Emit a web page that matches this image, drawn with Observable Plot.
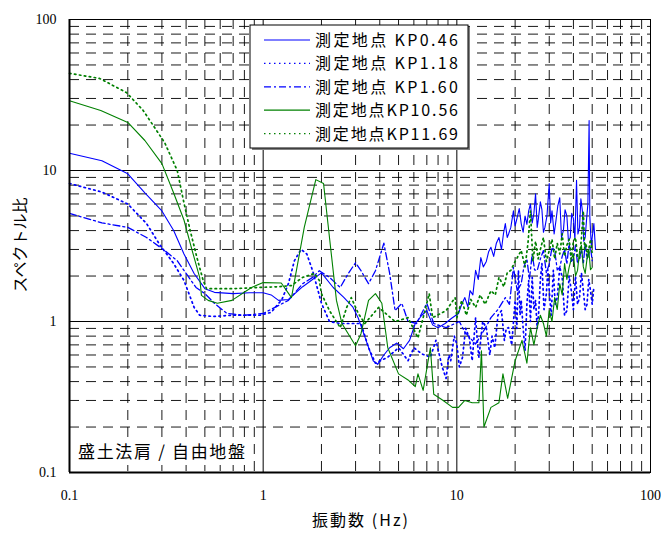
<!DOCTYPE html>
<html><head><meta charset="utf-8">
<script src="https://cdn.jsdelivr.net/npm/d3@7"></script>
<script src="https://cdn.jsdelivr.net/npm/@observablehq/plot@0.6"></script>
<style>body{margin:0;background:#fff}</style>
</head><body><div id="chart"></div>
<script>
// ---- data ----
const seriesNames = ["測定地点 KP0.46", "測定地点 KP1.18", "測定地点 KP1.60", "測定地点KP10.56", "測定地点KP11.69"];
const seriesColors = ["#0000ff", "#0000ff", "#0000ff", "#008000", "#008000"];

const fKP046 = [0.1,0.147,0.2,0.245,0.3,0.345,0.39,0.44,0.5,0.56,0.7,0.85,1.0,1.1,1.2,1.35,1.6,1.77,2.0,2.3,2.6,2.9,3.1,3.4,3.7,3.9,4.2,4.5,4.9,5.3,5.7,6.1,6.6,7.0,7.5,8.0,8.7,9.4,10.2,10.6,11.0,11.4,11.7,12.1,12.5,12.9,13.3,13.7,14.2,14.6,15.0,15.5,16.0,16.5,17.0,17.4,17.8,18.2,18.5,19.0,19.6,20.0,20.5,21.0,21.5,22.0,22.5,23.0,23.5,24.0,24.5,25.0,25.5,26.0,26.3,27.0,27.5,28.0,28.5,29.2,30,30.5,31,31.8,32.5,33.2,34,34.7,35.5,36.2,37,37.7,38.5,39.2,40,40.7,41.5,42.2,43,43.7,44.5,45.2,46,46.8,47.5,48.2,48.6,49,49.5,50,51,52];
const vKP046 = [13,11.6,9.5,7.1,5.4,4.0,2.8,2.08,1.65,1.56,1.53,1.55,1.55,1.5,1.38,1.4,1.7,1.87,2.1,1.68,1.45,1.25,1.05,0.75,0.55,0.52,0.6,0.67,0.72,0.66,0.75,0.97,1.1,1.18,0.95,0.91,0.97,1.05,1.13,1.3,1.44,1.25,1.6,1.5,2.18,1.9,2.65,2.3,2.5,2.9,3.1,2.7,3.3,3.6,3.0,3.8,4.45,3.6,3.8,4.2,5.4,4.3,4.9,5.6,4.45,3.9,5.0,4.4,5.4,6.0,4.5,5.2,7.0,4.2,4.66,6.2,5.5,3.9,4.2,5.0,8.2,4.5,5.4,3.8,4.66,5.8,6.6,3.6,4.0,5.5,5.0,3.4,3.6,5.2,4.8,3.5,8.6,3.8,4.2,6.5,5.4,3.4,3.6,4.8,6.0,21.4,5.0,4.0,3.2,3.6,4.45,3.0];

const fKP118 = [0.1,0.147,0.2,0.25,0.29,0.345,0.39,0.44,0.47,0.55,0.7,0.96,1.1,1.25,1.35,1.45,1.57,1.68,1.8,2.0,2.2,2.5,3.2,3.5,3.8,4.4,5.0,5.6,6.0,6.6,7.3,7.8,8.4,8.8,9.1,9.3,9.7,10.0,10.3,10.7,11.1,11.6,12.0,12.5,12.8,13.0,13.6,14.2,14.8,15.2,15.7,16.3,17.0,17.6,18.0,18.5,19.2,20,20.4,20.8,21.2,21.5,22.0,22.5,23.0,23.5,24.0,24.5,25.0,25.5,26.0,26.5,27.0,27.5,28.2,29,29.5,30,30.7,31.5,32.2,33,34,35,36,37,38,39,40,41,42,43,44,45,46,47,48,49,50,51];
const vKP118 = [8.2,7.2,6.0,4.45,3.28,2.42,1.87,1.24,1.1,1.08,1.1,1.1,1.15,1.4,1.78,2.53,3.0,2.8,2.17,1.32,1.0,0.97,0.97,0.67,0.53,0.58,0.67,0.55,0.67,0.61,0.58,0.75,0.5,0.42,0.6,0.55,0.8,0.71,0.5,0.58,0.9,0.78,0.55,1.06,0.7,0.58,1.0,0.91,0.6,0.8,0.67,1.1,1.18,0.75,0.9,0.91,0.7,1.38,0.9,2.18,1.1,1.38,0.9,0.64,1.3,1.87,1.0,1.96,1.2,1.38,0.9,1.18,1.9,2.42,1.2,1.53,2.2,1.6,1.1,2.18,1.3,1.44,2.3,1.96,1.1,1.18,2.0,1.6,1.2,2.0,1.3,1.44,2.1,1.6,1.2,1.3,1.9,1.6,1.3,1.7];

const fKP160 = [0.1,0.147,0.2,0.25,0.31,0.36,0.4,0.45,0.5,0.56,0.65,0.8,1.0,1.35,1.6,1.8,1.95,2.2,2.5,2.75,3.0,3.2,3.5,3.8,4.2,4.5,4.8,5.2,5.6,6.2,7.0,7.6,8.8,10.3,11,12.5,14,15,16.3,17.8,18.7,19.6,20.5,21.5,22.2,23,23.7,24.5,25.2,26,27,28,29,30,31,32,33,34,35,36,37,38,39,40,41,42,43,44,45,46,47,48,49,50];
const vKP160 = [5.2,4.5,4.2,3.6,2.95,2.53,2.08,1.68,1.53,1.32,1.13,1.1,1.13,1.38,1.78,1.96,2.17,1.96,1.68,2.08,2.45,2.17,1.78,2.17,3.3,2.08,1.18,1.32,1.0,0.97,1.32,0.97,0.91,1.0,0.85,0.71,0.9,1.06,1.2,1.44,1.3,2.28,1.6,1.78,2.3,2.6,1.9,2.8,2.2,2.17,2.6,2.95,2.1,2.4,3.1,2.95,2.2,2.28,2.7,3.0,2.4,3.3,2.5,2.6,3.2,2.42,2.6,3.0,2.4,3.3,2.6,2.8,3.1,2.53];

const fKP1056 = [0.1,0.145,0.2,0.245,0.3,0.345,0.39,0.43,0.47,0.48,0.52,0.58,0.69,0.87,1.0,1.24,1.4,1.63,1.87,2.05,2.2,2.39,2.55,3.0,3.2,3.5,3.8,4.1,4.4,5.0,5.6,6.1,6.3,6.7,7.3,7.6,8.5,9.5,10.2,11,12,13,13.4,13.8,15,16.5,17.3,18.3,20,21.7,23,24,25,26,27,28,29,30,31,32,33,34,35,36,37,38,39,40,41,42,43,44,45,46,47,48,49,50];
const vKP1056 = [29,25,20.8,15.8,11.1,7.1,4.7,2.95,1.96,1.49,1.38,1.32,1.38,1.68,1.81,1.8,1.44,4.2,8.7,8.2,3.6,1.38,0.97,0.69,0.83,1.38,1.53,1.32,0.67,0.45,0.41,0.37,0.45,0.35,0.67,0.33,0.3,0.27,0.27,0.3,0.29,0.29,0.64,0.2,0.27,0.29,0.45,0.31,0.55,0.75,0.53,0.91,0.7,0.91,1.1,0.97,0.8,1.18,1.0,1.44,1.2,1.78,1.5,2.42,1.9,2.28,2.6,2.8,2.0,2.18,2.9,3.2,2.3,2.08,2.6,3.0,2.2,2.28];

const fKP1169 = [0.1,0.143,0.197,0.24,0.31,0.36,0.39,0.42,0.455,0.49,0.51,0.7,0.95,1.2,1.4,1.6,1.84,1.95,2.0,2.2,2.5,2.7,2.85,3.1,3.35,3.95,4.8,5.6,6.3,6.7,7.2,7.5,8.8,9.8,10.0,10.6,11.2,11.8,12.5,13.2,14,15,15.8,16.5,17.5,18.2,19,20,21.5,22.5,23.3,24,24.7,25.5,26.3,27,28,29,30,31,32,33,34,35,36,37,38,39,40,41,42,43,44,45,45.7,46.5,47.3,48,49,50];
const vKP1169 = [44,40.7,32.8,25,15.3,10,6.1,4.0,2.65,1.87,1.65,1.65,1.68,1.7,1.73,1.96,2.08,1.87,1.53,1.18,0.91,1.24,1.44,1.13,0.97,1.24,1.0,1.06,0.78,1.06,1.53,1.06,1.18,1.44,1.06,1.38,1.1,1.4,1.24,1.5,1.3,1.6,1.5,1.96,1.7,2.1,2.18,2.5,2.95,2.3,3.3,5.4,2.5,3.4,2.6,3.0,3.6,2.5,2.95,3.5,2.6,3.3,2.8,3.8,2.7,3.2,3.5,2.6,3.4,3.6,2.7,2.6,3.6,5.4,3.0,3.3,2.6,3.0,3.5,2.8];

const majorTicks = [0.1, 1, 10, 100];
const tickLabels = ["0.1", "1", "10", "100"];
const xTitle = "振動数 (Hz)";
const yTitle = "スペクトル比";
const note = "盛土法肩 / 自由地盤";

// ---- build table ----
const fs = [fKP046, fKP118, fKP160, fKP1056, fKP1169];
const vs = [vKP046, vKP118, vKP160, vKP1056, vKP1169];
const rows = [];
fs.forEach((fa, s) => fa.forEach((f, i) => rows.push({series: seriesNames[s], f, v: vs[s][i]})));
const minor = [];
for (const d of [0.1, 1, 10]) for (let k = 2; k <= 9; k++) minor.push(+(d * k).toPrecision(3));

const dashes = [null, "1.5,3.5", "7,3,2,3", null, "1.5,3.5"];
const widths = [1.1, 1.7, 1.3, 1.1, 1.7];

const lineMarks = seriesNames.map((name, s) =>
  Plot.line(rows.filter(r => r.series === name), {
    x: "f", y: "v", stroke: seriesColors[s], strokeWidth: widths[s],
    strokeDasharray: dashes[s] || undefined, strokeLinejoin: "round"
  }));

const chart = Plot.plot({
  width: 661, height: 533,
  marginLeft: 69, marginRight: 11, marginTop: 19, marginBottom: 61,
  style: {fontFamily: "'Liberation Serif', serif", fontSize: "14px", background: "#fff", color: "#000"},
  x: {type: "log", domain: [0.1, 100]},
  y: {type: "log", domain: [0.1, 100]},
  marks: [
    Plot.ruleX(minor, {stroke: "#000", strokeWidth: 1, strokeDasharray: "10,7", strokeOpacity: 0.9}),
    Plot.ruleY(minor, {stroke: "#000", strokeWidth: 1, strokeDasharray: "10,7", strokeOpacity: 0.9}),
    Plot.ruleX([1, 10], {stroke: "#000", strokeWidth: 1}),
    Plot.ruleY([1, 10], {stroke: "#000", strokeWidth: 1}),
    ...lineMarks,
    Plot.frame({stroke: "#000", strokeWidth: 1}),
    Plot.ruleX([0.1], {stroke: "#000", strokeWidth: 2}),
    Plot.ruleY([0.1], {stroke: "#000", strokeWidth: 2}),
    Plot.axisX(majorTicks, {tickSize: 0, tickPadding: 18, tickFormat: d => tickLabels[majorTicks.indexOf(d)], label: null, fontSize: 14}),
    Plot.axisY(majorTicks, {tickSize: 0, tickPadding: 13, tickFormat: d => tickLabels[majorTicks.indexOf(d)], label: null, fontSize: 14})
  ]
});
document.getElementById("chart").appendChild(chart);

// ---- titles, legend, note ----
const svg = d3.select(chart);
const jp = "'Noto Sans CJK JP', 'Noto Sans', sans-serif";
svg.append("text").attr("x", 312).attr("y", 526).attr("text-anchor", "start")
  .attr("font-family", jp).attr("font-size", 16).attr("textLength", 96).attr("lengthAdjust", "spacing")
  .attr("fill", "#000").text(xTitle);
svg.append("text").attr("transform", "translate(26,245) rotate(-90)").attr("text-anchor", "middle")
  .attr("font-family", jp).attr("font-size", 16).attr("fill", "#000").text(yTitle);

// note box
svg.append("rect").attr("x", 74).attr("y", 439).attr("width", 176).attr("height", 26).attr("fill", "#fff");
svg.append("text").attr("x", 78).attr("y", 458).attr("text-anchor", "start").attr("font-family", jp).attr("font-size", 17)
  .attr("textLength", 167).attr("lengthAdjust", "spacing").attr("fill", "#000").text(note);

// legend
const lg = svg.append("g");
lg.append("rect").attr("x", 252).attr("y", 27).attr("width", 218).attr("height", 123).attr("fill", "#808080");
lg.append("rect").attr("x", 250).attr("y", 25).attr("width", 218).attr("height", 123).attr("fill", "#fff").attr("stroke", "#000");
seriesNames.forEach((name, s) => {
  const y = 40 + s * 23.4;
  lg.append("line").attr("x1", 264).attr("x2", 310).attr("y1", y).attr("y2", y)
    .attr("stroke", seriesColors[s]).attr("stroke-width", 1.2)
    .attr("stroke-dasharray", dashes[s]);
  lg.append("text").attr("x", 315).attr("y", y + 6).attr("text-anchor", "start").attr("font-family", jp).attr("font-size", 16)
    .attr("textLength", 143).attr("lengthAdjust", "spacing").attr("fill", "#000").text(name);
});
</script>
</body></html>
